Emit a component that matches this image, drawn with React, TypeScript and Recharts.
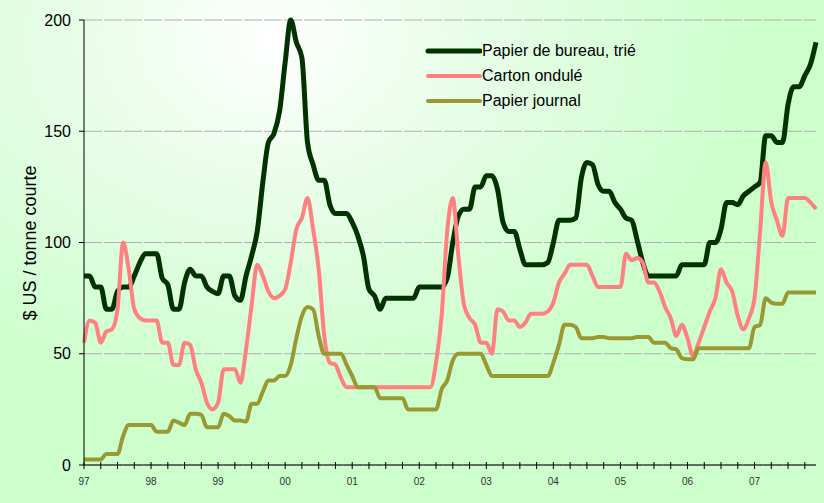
import React from 'react';
import { LineChart, Line, XAxis, YAxis, CartesianGrid } from 'recharts';

// monthly, Jan 1997 .. Dec 2007
const YEAR_LABELS = ['97', '98', '99', '00', '01', '02', '03', '04', '05', '06', '07'];

const BUREAU = [
  85, 85, 80, 80, 70, 70, 78, 80, 80, 85, 91, 95,
  95, 95, 84, 81, 70, 70, 82, 88, 85, 85, 80, 78,
  77, 85, 85, 76, 74, 85, 94, 105, 127, 145, 149, 159,
  181, 200, 190, 183, 145, 135, 128, 128, 117, 113, 113, 113,
  109, 103, 94, 79, 76, 70, 75, 75, 75, 75, 75, 75,
  80, 80, 80, 80, 80, 84, 100, 112, 115, 115, 125, 125,
  130, 130, 124, 109, 105, 105, 97, 90, 90, 90, 90, 91,
  100, 110, 110, 110, 111, 129, 136, 135, 126, 123, 123, 118,
  115, 111, 110, 101, 91, 85, 85, 85, 85, 85, 85, 90,
  90, 90, 90, 90, 100, 100, 106, 118, 118, 117, 121, 123,
  125, 127, 148, 148, 145, 145, 162, 170, 170, 175, 180, 190,
];

const CARTON = [
  55, 65, 64, 55, 60, 61, 70, 100, 88, 70, 66, 65,
  65, 65, 55, 55, 45, 45, 55, 54, 43, 37, 28, 25,
  28, 43, 43, 43, 37, 52, 72, 90, 85, 78, 75, 76,
  79, 91, 106, 111, 120, 106, 88, 58, 46, 45, 39, 35,
  35, 35, 35, 35, 35, 35, 35, 35, 35, 35, 35, 35,
  35, 35, 35, 46, 67, 105, 120, 94, 72, 66, 63, 55,
  55, 50, 70, 69, 65, 65, 62, 64, 68, 68, 68, 69,
  73, 82, 86, 90, 90, 90, 90, 85, 80, 80, 80, 80,
  80, 95, 92, 93, 91, 82, 82, 78, 71, 66, 58, 63,
  57, 49, 55, 62, 69, 75, 88, 82, 78, 67, 61, 66,
  75, 105, 136, 118, 110, 103, 120, 120, 120, 120, 118, 115,
];

const JOURNAL = [
  2.5, 2.5, 2.5, 2.5, 5, 5, 5, 13, 18, 18, 18, 18,
  18, 15, 15, 15, 20, 19, 18, 23, 23, 22.5, 17, 17,
  17, 23, 22, 20, 20, 19.5, 27.5, 27.5, 33, 38, 38, 40,
  40, 45, 57, 67, 71, 70, 58, 50, 50, 50, 50, 45,
  40, 35, 35, 35, 35, 30, 30, 30, 30, 30, 25, 25,
  25, 25, 25, 25, 34, 38, 47, 50, 50, 50, 50, 50,
  45, 40, 40, 40, 40, 40, 40, 40, 40, 40, 40, 40,
  46, 54, 63, 63, 62, 57, 57, 57, 57.5, 57.5, 57, 57,
  57, 57, 57, 57.5, 57.5, 57.5, 55, 55, 55, 52.5, 52, 48,
  47.5, 47.5, 52.5, 52.5, 52.5, 52.5, 52.5, 52.5, 52.5, 52.5, 52.5, 52.5,
  62, 63, 75, 73, 72.5, 72.5, 77.5, 77.5, 77.5, 77.5, 77.5, 77.5,
];

const Y_TICKS = [0, 50, 100, 150, 200];

const SERIES = [
  { key: 'bureau', name: 'Papier de bureau, trié', color: '#003300', width: 5 },
  { key: 'carton', name: 'Carton ondulé', color: '#ff8080', width: 4 },
  { key: 'journal', name: 'Papier journal', color: '#999933', width: 4 },
];

const data = BUREAU.map((b, i) => ({ m: i, bureau: b, carton: CARTON[i], journal: JOURNAL[i] }));
const quarterTicks = data.filter((d) => d.m % 3 === 0).map((d) => d.m);

const QuarterTick = (props: any) => {
  const { x, y, payload } = props;
  const v = payload.value as number;
  return (
    <g>
      <line x1={x} x2={x} y1={y - 3} y2={y + 4} stroke="#000" strokeWidth={1} />
      {v % 12 === 0 && (
        <text x={x} y={y + 16} textAnchor="middle" dominantBaseline="central" fontSize={10} fill="#333">
          {YEAR_LABELS[v / 12]}
        </text>
      )}
    </g>
  );
};

// legend drawn as an overlay so it does not shrink the plot area
const LegendBox = () => (
  <div style={{ position: 'absolute', left: 425, top: 38, display: 'flex', flexDirection: 'column' }}>
    {SERIES.map((s) => (
      <div key={s.key} style={{ display: 'flex', alignItems: 'center', height: 25 }}>
        <svg width={57} height={10}>
          <line x1={3} x2={55} y1={5} y2={5} stroke={s.color} strokeWidth={s.width} strokeLinecap="round" />
        </svg>
        <span style={{ fontSize: 16, color: '#000', whiteSpace: 'nowrap' }}>{s.name}</span>
      </div>
    ))}
  </div>
);

export default function App() {
  return (
    <div
      style={{
        position: 'relative',
        width: 824,
        height: 503,
        fontFamily: '"Liberation Sans", Arial, sans-serif',
        background:
          'radial-gradient(ellipse 60% 75% at 33% 8%, #ffffff 0%, #e8fde8 40%, #ccffcc 100%)',
      }}
    >
      <style>{'body{margin:0}'}</style>
      <LineChart width={824} height={503} data={data} margin={{ top: 20, right: 8, bottom: 0, left: 0 }}>
        <CartesianGrid vertical={false} stroke="#b0b0b0" strokeDasharray="18 2" />
        <XAxis
          dataKey="m"
          type="number"
          domain={[0, 131]}
          ticks={quarterTicks}
          interval={0}
          tickSize={0}
          tickMargin={0}
          tickLine={false}
          tick={<QuarterTick />}
          axisLine={{ stroke: '#000' }}
          height={38}
        />
        <YAxis
          domain={[0, 200]}
          ticks={Y_TICKS}
          width={84}
          tickSize={5}
          tickMargin={8}
          tick={{ fontSize: 16, fill: '#000' }}
          tickLine={{ stroke: '#000' }}
          axisLine={{ stroke: '#000' }}
          label={{
            content: () => (
              <text
                x={30}
                y={243}
                transform="rotate(-90, 30, 243)"
                textAnchor="middle"
                dominantBaseline="central"
                fontSize={18}
                fill="#000"
              >
                $ US / tonne courte
              </text>
            ),
          }}
        />
        {SERIES.map((s) => (
          <Line
            key={s.key}
            type="monotone"
            dataKey={s.key}
            name={s.name}
            stroke={s.color}
            strokeWidth={s.width}
            dot={false}
            activeDot={false}
            isAnimationActive={false}
          />
        ))}
      </LineChart>
      <LegendBox />
    </div>
  );
}
